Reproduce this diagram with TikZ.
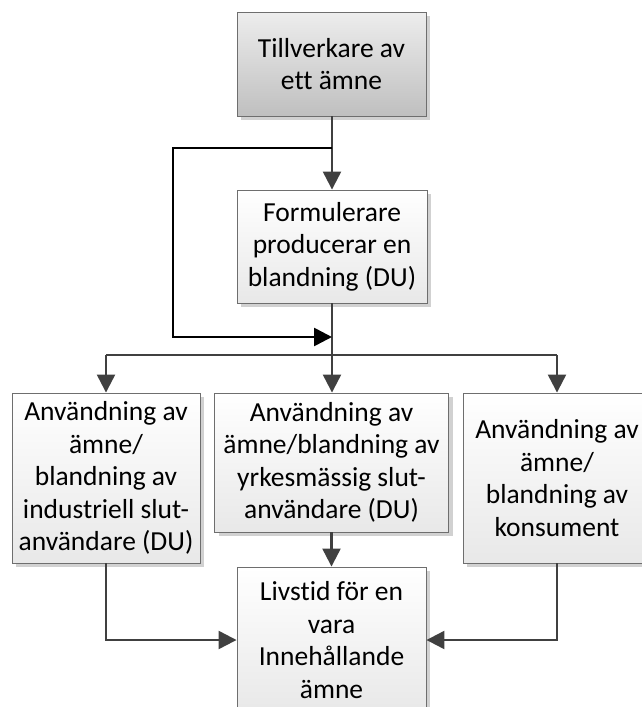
\documentclass[tikz,border=0pt]{standalone}
\usepackage{fontspec}
\setmainfont[Ligatures=NoCommon]{Carlito}
\usetikzlibrary{arrows.meta,shadows}

\definecolor{linegray}{HTML}{404040}
\definecolor{edgegray}{HTML}{6E6E6E}

\tikzset{
  box/.style={draw=edgegray, line width=0.9pt, align=center, inner sep=0pt,
    font=\fontsize{27.5}{32.5}\selectfont,
    top color=white, bottom color=black!9,
    drop shadow={shadow xshift=4pt, shadow yshift=-4pt, fill=black!18, opacity=1}},
  darkbox/.style={box, top color=black!7, bottom color=black!25},
  conn/.style={draw=linegray, line width=2.3pt},
  arr/.style={conn, -{Triangle[length=18pt,width=18pt]}},
  loopline/.style={draw=black, line width=2.7pt, -{Triangle[length=18pt,width=18pt]}},
}

\begin{document}
\begin{tikzpicture}[x=1pt,y=1pt]
  \useasboundingbox (0,0) rectangle (642,-707);
  \clip (0,0) rectangle (642,-707);

  % boxes
  \node[darkbox, minimum width=189pt, minimum height=104pt] (maker) at (331.5,-64)
    {Tillverkare av\\ett ämne};
  \node[box, minimum width=190pt, minimum height=113pt] (form) at (332,-246.5)
    {Formulerare\\producerar en\\blandning (DU)};
  \node[box, minimum width=188pt, minimum height=170pt] (ind) at (106,-478)
    {Användning av\\ämne/\\blandning av\\industriell slut-\\användare (DU)};
  \node[box, minimum width=234pt, minimum height=139pt] (prof) at (331.5,-462.5)
    {Användning av\\ämne/blandning av\\yrkesmässig slut-\\användare (DU)};
  \node[box, minimum width=188pt, minimum height=170pt] (cons) at (557,-478)
    {Användning av\\ämne/\\blandning av\\konsument};
  \node[box, minimum width=189pt, minimum height=146pt] (life) at (331.5,-640)
    {Livstid för en\\vara\\Innehållande\\ämne};

  % junction points on the trunk
  \coordinate (loopTop) at (332,-148);
  \coordinate (loopCorner) at (173,-148);
  \coordinate (loopEnd) at (332,-337);
  \coordinate (split) at (332,-355);
  \coordinate (splitL) at (ind.north |- split);
  \coordinate (splitR) at (cons.north |- split);

  % trunk
  \draw[arr] (maker.south -| loopTop) -- (form.north -| loopTop);
  \draw[conn] (form.south -| split) -- (split);
  \draw[conn] (splitL) -- (splitR);
  \draw[arr] (splitL) -- (ind.north);
  \draw[arr] (split) -- (prof.north -| split);
  \draw[arr] (splitR) -- (cons.north);

  % bypass loop around the formulator
  \draw[loopline] (loopTop) -- (loopCorner) |- (loopEnd);

  % into the article's life cycle
  \draw[arr] (prof.south) -- (life.north);
  \draw[arr] (ind.south) |- (life.west);
  \draw[arr] (cons.south) |- (life.east);
\end{tikzpicture}
\end{document}
